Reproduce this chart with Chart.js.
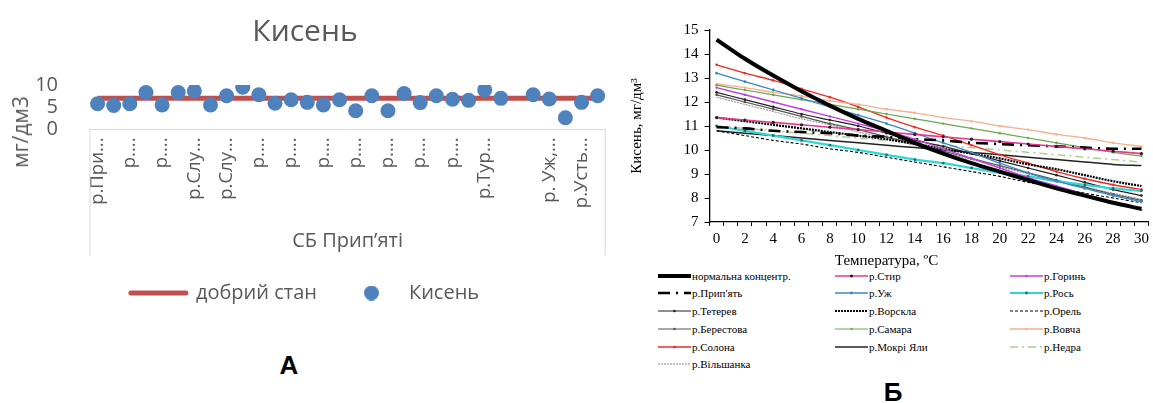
<!DOCTYPE html>
<html>
<head>
<meta charset="utf-8">
<script src="https://cdn.jsdelivr.net/npm/chart.js@4.4.1/dist/chart.umd.min.js"></script>
<style>
  html, body { margin: 0; padding: 0; background: #fff; }
  body { width: 1153px; height: 403px; position: relative; overflow: hidden; }
  canvas { position: absolute; }
  #chartA { left: 0; top: 0; }
  #chartB { left: 620px; top: 0; }
  .ytitle { position: absolute; left: 20px; top: 132px; transform: translate(-50%, -50%) rotate(-90deg);
            font: 21px "Open Sans"; color: #595959; white-space: nowrap; }
  .panel { position: absolute; transform: translate(-50%, -50%); font: bold 26px "Liberation Sans"; color: #000; }
  .li { position: absolute; display: flex; align-items: center; white-space: nowrap; transform: translateY(-50%);
        font: 11px "Liberation Serif"; color: #000; }
  .li svg { display: block; margin-right: 1px; }
</style>
</head>
<body>
<canvas id="chartA" width="620" height="335"></canvas>
<canvas id="chartB" width="533" height="270"></canvas>
<div class="ytitle">мг/дм3</div>
<div class="panel" style="left:289px; top:365px;">А</div>
<div class="panel" style="left:893px; top:392px;">Б</div>
<div id="legendB"></div>

<script>
// ---- chart A: oxygen by river site ----
const sitesA = ['р.При...', 'р....', 'р....', 'р....', 'р....', 'р....', 'р.Слу...', 'р....',
  'р.Слу...', 'р....', 'р....', 'р....', 'р....', 'р....', 'р....', 'р....',
  'р....', 'р....', 'р....', 'р....', 'р....', 'р....', 'р....', 'р....',
  'р.Тур...', 'р....', '', 'р....', 'р. Уж,...', 'р....', 'р.Усть...', 'р....'];
const oxygenA = [5.8, 5.4, 5.8, 8.3, 5.5, 8.3, 8.65, 5.5,
  7.6, 9.5, 7.8, 5.9, 6.7, 6.1, 5.5, 6.7,
  4.2, 7.6, 4.2, 8.1, 6.05, 7.6, 6.8, 6.55,
  8.9, 7.0, null, 7.8, 6.85, 2.65, 6.1, 7.6];
const goodStateA = [7, 7, 7, 7, 7, 7, 7, 7, 7, 7, 7, 7, 7, 7, 7, 7,
  7, 7, 7, 7, 7, 7, 7, 7, 7, 7, 7, 7, 7, 7, 7, 7];
const yTicksA = { min: 0, max: 10, step: 5 };

// ---- chart B: oxygen vs temperature ----
const tempLabels = [0, 1, 2, 3, 4, 5, 6, 7, 8, 9, 10, 11, 12, 13, 14, 15,
  16, 17, 18, 19, 20, 21, 22, 23, 24, 25, 26, 27, 28, 29, 30];
const sampleTemps = [0, 2, 4, 6, 8, 10, 12, 14, 16, 18, 20, 22, 24, 26, 28, 30];
const normConc  = [14.6, 13.8, 13.1, 12.45, 11.85, 11.3, 10.8, 10.3, 9.85, 9.45, 9.1, 8.75, 8.4, 8.1, 7.8, 7.55];
const styr      = [11.35, 11.25, 11.15, 11.05, 10.95, 10.85, 10.75, 10.65, 10.55, 10.45, 10.35, 10.25, 10.15, 10.05, 9.95, 9.85];
const horyn     = [12.6, 12.3, 12.0, 11.7, 11.4, 11.1, 10.8, 10.45, 10.05, 9.65, 9.25, 8.85, 8.5, 8.15, 7.8, 7.5];
const prypiat   = [10.95, 10.9, 10.8, 10.75, 10.7, 10.6, 10.55, 10.45, 10.4, 10.3, 10.25, 10.2, 10.15, 10.1, 10.05, 10.05];
const uzh       = [13.2, 12.85, 12.5, 12.15, 11.8, 11.45, 11.1, 10.7, 10.3, 9.9, 9.45, 9.05, 8.7, 8.4, 8.1, 7.85];
const ros       = [11.0, 10.8, 10.6, 10.4, 10.2, 10.0, 9.8, 9.6, 9.45, 9.25, 9.05, 8.9, 8.7, 8.55, 8.4, 8.3];
const teteriv   = [12.4, 12.1, 11.8, 11.5, 11.25, 11.0, 10.7, 10.4, 10.15, 9.85, 9.55, 9.25, 8.95, 8.65, 8.35, 8.1];
const vorskla   = [11.35, 11.2, 11.05, 10.9, 10.75, 10.6, 10.45, 10.25, 10.05, 9.85, 9.65, 9.4, 9.2, 8.95, 8.7, 8.5];
const orel      = [10.8, 10.6, 10.4, 10.25, 10.05, 9.9, 9.7, 9.5, 9.3, 9.1, 8.9, 8.65, 8.45, 8.2, 8.0, 7.8];
const berestova = [12.3, 12.0, 11.7, 11.4, 11.1, 10.85, 10.55, 10.25, 9.95, 9.65, 9.35, 9.05, 8.75, 8.45, 8.15, 7.9];
const samara    = [12.7, 12.5, 12.3, 12.1, 11.9, 11.7, 11.5, 11.3, 11.1, 10.9, 10.7, 10.5, 10.3, 10.1, 9.9, 9.75];
const vovcha    = [12.75, 12.6, 12.4, 12.25, 12.05, 11.9, 11.7, 11.55, 11.35, 11.2, 11.0, 10.85, 10.65, 10.5, 10.3, 10.15];
const solona    = [13.55, 13.2, 12.9, 12.55, 12.2, 11.8, 11.35, 10.95, 10.6, 10.2, 9.8, 9.45, 9.1, 8.8, 8.55, 8.35];
const mokriYaly = [10.8, 10.7, 10.6, 10.5, 10.4, 10.3, 10.2, 10.1, 10.0, 9.9, 9.8, 9.7, 9.6, 9.5, 9.4, 9.35];
const nedra     = [11.0, 10.9, 10.8, 10.7, 10.6, 10.5, 10.4, 10.3, 10.2, 10.1, 10.0, 9.9, 9.8, 9.7, 9.6, 9.5];
const vilshanka = [12.2, 11.9, 11.6, 11.3, 11.05, 10.75, 10.5, 10.2, 9.9, 9.6, 9.3, 9.0, 8.7, 8.45, 8.2, 7.95];

const seriesB = [
  { name: 'нормальна концентр.', data: normConc, color: '#000', width: 4, dash: [], marker: 0 },
  { name: 'р.Стир', data: styr, color: '#e6388f', width: 1.6, dash: [], marker: 1.6, markerColor: '#222' },
  { name: 'р.Горинь', data: horyn, color: '#c43fe0', width: 1.4, dash: [], marker: 1.2 },
  { name: "р.Прип'ять", data: prypiat, color: '#000', width: 2.6, dash: [12, 6, 2, 6], marker: 0 },
  { name: 'р.Уж', data: uzh, color: '#3b86c6', width: 1.3, dash: [], marker: 1.4 },
  { name: 'р.Рось', data: ros, color: '#2fd6d6', width: 2.2, dash: [], marker: 1.4, markerColor: '#1b6f6f' },
  { name: 'р.Тетерев', data: teteriv, color: '#222', width: 1.2, dash: [], marker: 1.3 },
  { name: 'р.Ворскла', data: vorskla, color: '#000', width: 2.2, dash: [2, 1], marker: 0 },
  { name: 'р.Орель', data: orel, color: '#000', width: 1.1, dash: [3, 2], marker: 0 },
  { name: 'р.Берестова', data: berestova, color: '#555', width: 1.2, dash: [], marker: 1.3 },
  { name: 'р.Самара', data: samara, color: '#6aa84f', width: 1.2, dash: [], marker: 1.2 },
  { name: 'р.Вовча', data: vovcha, color: '#f5b08c', width: 1.3, dash: [], marker: 1.2 },
  { name: 'р.Солона', data: solona, color: '#ee2b24', width: 1.4, dash: [], marker: 1.3 },
  { name: 'р.Мокрі Яли', data: mokriYaly, color: '#222', width: 1.5, dash: [], marker: 0 },
  { name: 'р.Недра', data: nedra, color: '#a9d18e', width: 1.5, dash: [8, 4, 2, 4], marker: 0 },
  { name: 'р.Вільшанка', data: vilshanka, color: '#888', width: 1, dash: [2, 1], marker: 0 }
];

Chart.defaults.font.family = '"Open Sans"';
Chart.defaults.animation = false;
Chart.defaults.events = [];

// legend sample for the dot series
const dotImg = document.createElement('canvas');
dotImg.width = 15; dotImg.height = 15;
(() => {
  const c = dotImg.getContext('2d');
  c.fillStyle = '#4f81bd';
  c.beginPath(); c.arc(7.5, 7.5, 7.5, 0, Math.PI * 2); c.fill();
})();

// the box that groups the category labels
const categoryBox = {
  id: 'categoryBox',
  afterDraw(chart) {
    const { ctx, chartArea: a } = chart;
    ctx.save();
    ctx.strokeStyle = '#d9d9d9';
    ctx.lineWidth = 1;
    ctx.beginPath();
    ctx.moveTo(a.left + 0.5, a.bottom); ctx.lineTo(a.left + 0.5, a.bottom + 126);
    ctx.moveTo(a.right - 0.5, a.bottom); ctx.lineTo(a.right - 0.5, a.bottom + 126);
    ctx.stroke();
    ctx.restore();
  }
};

new Chart(document.getElementById('chartA'), {
  type: 'line',
  data: {
    labels: sitesA,
    datasets: [
      {
        label: 'добрий стан',
        data: goodStateA,
        borderColor: '#c0504d',
        backgroundColor: '#c0504d',
        borderWidth: 5,
        pointRadius: 0,
        order: 1
      },
      {
        label: 'Кисень',
        data: oxygenA,
        showLine: false,
        pointRadius: 7.5,
        pointBorderWidth: 0,
        pointBackgroundColor: '#4f81bd',
        borderColor: '#4f81bd',
        backgroundColor: '#4f81bd',
        order: 0
      }
    ]
  },
  options: {
    responsive: false,
    layout: { padding: { left: 0, right: 10, top: 0, bottom: 22 } },
    plugins: {
      title: {
        display: true,
        text: 'Кисень',
        color: '#595959',
        font: { size: 30, weight: 'normal' },
        padding: { top: 14, bottom: 35 }
      },
      legend: {
        position: 'bottom',
        labels: {
          usePointStyle: true,
          pointStyleWidth: 55,
          boxHeight: 11,
          padding: 27,
          color: '#595959',
          font: { size: 20 },
          generateLabels: chart => chart.data.datasets.map((ds, i) => ({
            text: ds.label,
            datasetIndex: i,
            hidden: false,
            fontColor: '#595959',
            pointStyle: i === 0 ? 'line' : dotImg,
            strokeStyle: ds.borderColor,
            fillStyle: ds.backgroundColor,
            lineWidth: 5,
            lineCap: 'round'
          }))
        }
      },
      tooltip: { enabled: false }
    },
    scales: {
      x: {
        type: 'category',
        offset: true,
        grid: { display: false },
        border: { display: true, color: '#d9d9d9', width: 1 },
        ticks: {
          autoSkip: false,
          minRotation: 90,
          maxRotation: 90,
          padding: 0,
          color: '#595959',
          font: { size: 18.5 },
          callback: (v, i) => (i % 2 === 0 ? sitesA[i] : '')
        },
        title: {
          display: true,
          text: 'СБ Прип’яті',
          color: '#595959',
          font: { size: 20 },
          padding: { top: 4, bottom: 2.5 }
        },
        afterFit: s => { s.height = 126.5; }
      },
      y: {
        min: yTicksA.min,
        max: yTicksA.max,
        grid: { display: false },
        border: { display: false },
        ticks: {
          stepSize: yTicksA.step,
          autoSkip: false,
          padding: 23.5,
          color: '#595959',
          font: { size: 20, lineHeight: 1 }
        },
        afterFit: s => { s.width = 89.5; }
      }
    }
  },
  plugins: [categoryBox]
});

// ---- chart B ----
new Chart(document.getElementById('chartB'), {
  type: 'line',
  data: {
    labels: tempLabels,
    datasets: seriesB.map(s => ({
      label: s.name,
      data: s.data.map((v, i) => ({ x: sampleTemps[i], y: v })),
      borderColor: s.color,
      backgroundColor: s.markerColor || s.color,
      borderWidth: s.width,
      borderDash: s.dash,
      pointRadius: s.marker,
      pointBorderWidth: 0,
      pointBackgroundColor: s.markerColor || s.color,
      cubicInterpolationMode: 'monotone'
    }))
  },
  options: {
    responsive: false,
    layout: { padding: { left: 0, right: 0, top: 30, bottom: 0 } },
    plugins: {
      legend: { display: false },
      tooltip: { enabled: false },
      title: {
        display: true,
        position: 'bottom',
        text: 'Температура, ºС',
        color: '#000',
        font: { family: '"Liberation Serif"', size: 15, weight: 'normal' },
        padding: 0
      }
    },
    scales: {
      x: {
        type: 'category',
        offset: true,
        grid: { offset: true, drawOnChartArea: false, tickLength: 4, color: '#000', lineWidth: 1 },
        border: { color: '#000', width: 1.3 },
        ticks: {
          autoSkip: false,
          maxRotation: 0,
          padding: 4,
          color: '#000',
          font: { family: '"Liberation Serif"', size: 15 },
          callback: (v, i) => (tempLabels[i] % 2 === 0 ? String(tempLabels[i]) : '')
        },
        afterFit: s => { s.height = 30; }
      },
      y: {
        min: 7,
        max: 15,
        grid: { drawOnChartArea: false, tickLength: 5, color: '#000', lineWidth: 1 },
        border: { color: '#000', width: 1.3 },
        ticks: { stepSize: 1, autoSkip: false, padding: 6, color: '#000', font: { family: '"Liberation Serif"', size: 15 } },
        title: {
          display: true,
          text: 'Кисень, мг/дм³',
          color: '#000',
          font: { family: '"Liberation Serif"', size: 15 },
          padding: { top: 8 }
        },
        afterFit: s => { s.width = 89.5; }
      }
    }
  }
});

// HTML legend for chart B, three columns like the original figure
const legendB = document.getElementById('legendB');
const colX = [658, 835, 1010];
seriesB.forEach((s, k) => {
  const row = Math.floor(k / 3), col = k % 3;
  const item = document.createElement('div');
  item.className = 'li';
  item.style.left = colX[col] + 'px';
  item.style.top = (275.7 + row * 17.7) + 'px';
  const marker = s.marker
    ? `<circle cx="16.5" cy="4" r="${s.marker}" fill="${s.markerColor || s.color}"/>` : '';
  item.innerHTML =
    `<svg width="33" height="8"><line x1="0" y1="4" x2="33" y2="4" stroke="${s.color}" ` +
    `stroke-width="${s.width}" stroke-dasharray="${s.dash.join(' ')}"/>${marker}</svg>` +
    `<span>${s.name}</span>`;
  legendB.appendChild(item);
});
</script>
</body>
</html>
